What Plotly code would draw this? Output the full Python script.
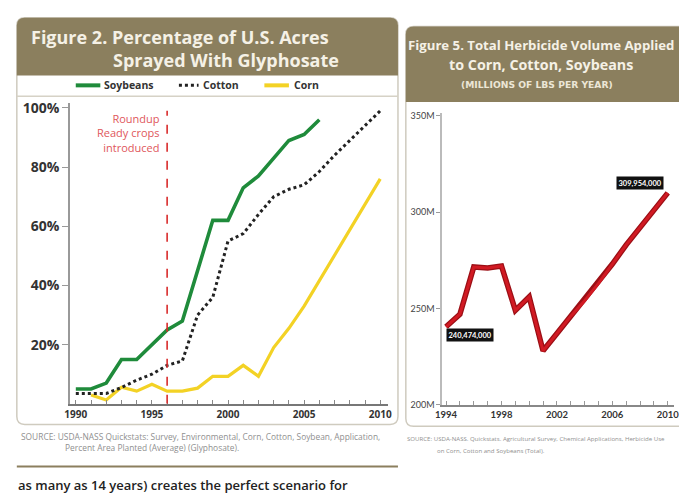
import plotly.graph_objects as go

W, H = 679, 497

# ---------------- data: Figure 2 ----------------
series_names = ["Soybeans", "Cotton", "Corn"]
soy_years = list(range(1990, 2007))
soy_pct = [5, 5, 7, 15, 15, 20, 25, 28, 45, 62, 62, 73, 77, 83, 89, 91, 96]
cotton_years = list(range(1990, 2011))
cotton_pct = [3.5, 3.5, 3.5, 5.5, 8, 10, 13, 14.5, 30, 36, 55, 57.5, 64, 70, 72.5, 74, 78.5, 84, 89, 94, 99]
corn_years = list(range(1991, 2011))
corn_pct = [3, 1.3, 5.6, 4.3, 6.6, 4.3, 4.3, 5.3, 9.3, 9.3, 13, 9.3, 19, 25.5, 33, 41.6, 50, 59, 67.5, 76]
pct_ticks = [20, 40, 60, 80, 100]
pct_labels = ["20%", "40%", "60%", "80%", "100%"]
roundup_year = 1996
roundup_text = "Roundup<br>Ready crops<br>introduced"

# ---------------- data: Figure 5 ----------------
herb_years = list(range(1994, 2011))
herb_mlbs = [240.474, 247, 271.5, 271, 272, 249, 256, 228, 237, 246, 254, 263, 273, 283, 292, 301, 309.954]
herb_ticks = [200, 250, 300, 350]
herb_labels = ["200M", "250M", "300M", "350M"]

# ---------------- styles ----------------
GREEN, BLACK, YELLOW = "#1f8b3b", "#222222", "#f3d225"
OLIVE = "#8b7f5e"
FONT = "Open Sans"
FONT2 = "Lato"


def X(x):
    return x / W


def Y(y):
    return 1 - y / H


def rrect(x0, y0, x1, y1, r, top_only=False):
    p = f"M {X(x0)},{Y(y0 + r)} Q {X(x0)},{Y(y0)} {X(x0 + r)},{Y(y0)} "
    p += f"L {X(x1 - r)},{Y(y0)} Q {X(x1)},{Y(y0)} {X(x1)},{Y(y0 + r)} "
    if top_only:
        p += f"L {X(x1)},{Y(y1)} L {X(x0)},{Y(y1)} Z"
    else:
        p += f"L {X(x1)},{Y(y1 - r)} Q {X(x1)},{Y(y1)} {X(x1 - r)},{Y(y1)} "
        p += f"L {X(x0 + r)},{Y(y1)} Q {X(x0)},{Y(y1)} {X(x0)},{Y(y1 - r)} Z"
    return p


fig = go.Figure()

# Figure 2 traces
fig.add_trace(go.Scatter(x=corn_years, y=corn_pct, mode="lines", name=series_names[2],
                         line=dict(color=YELLOW, width=3.2), xaxis="x", yaxis="y"))
fig.add_trace(go.Scatter(x=soy_years, y=soy_pct, mode="lines", name=series_names[0],
                         line=dict(color=GREEN, width=3.6), xaxis="x", yaxis="y"))
fig.add_trace(go.Scatter(x=cotton_years, y=cotton_pct, mode="lines", name=series_names[1],
                         line=dict(color=BLACK, width=3, dash="dot"), xaxis="x", yaxis="y"))

# Figure 5 trace (dark edge + bright core)
fig.add_trace(go.Scatter(x=herb_years, y=herb_mlbs, mode="lines", name="Herbicide",
                         line=dict(color="#9b0f15", width=5.5), xaxis="x2", yaxis="y2"))
fig.add_trace(go.Scatter(x=herb_years, y=herb_mlbs, mode="lines", name="Herbicide",
                         line=dict(color="#d11a23", width=3), xaxis="x2", yaxis="y2"))

shapes = []
shapes.append(dict(type="path", xref="paper", yref="paper", path=rrect(10, 13, 398, 428, 8),
                   line=dict(color="#cfcbbf", width=1.5), layer="below"))
shapes.append(dict(type="path", xref="paper", yref="paper", path=rrect(10, 13, 398, 72, 8, top_only=True),
                   fillcolor=OLIVE, line=dict(width=0), layer="below"))
shapes.append(dict(type="line", xref="paper", yref="paper", x0=X(10), x1=X(398), y0=Y(93), y1=Y(93),
                   line=dict(color="#d6d2c6", width=1.5), layer="below"))
shapes.append(dict(type="path", xref="paper", yref="paper", path=rrect(406, 22, 700, 430, 8),
                   line=dict(color="#cfcbbf", width=1.5), layer="below"))
shapes.append(dict(type="path", xref="paper", yref="paper", path=rrect(406, 22, 700, 99, 8, top_only=True),
                   fillcolor=OLIVE, line=dict(width=0), layer="below"))
shapes.append(dict(type="line", xref="paper", yref="paper", x0=X(10), x1=X(398), y0=Y(471), y1=Y(471),
                   line=dict(color=OLIVE, width=2)))
shapes.append(dict(type="line", xref="x", yref="y", x0=roundup_year, x1=roundup_year, y0=0, y1=99,
                   line=dict(color="#d92b2b", width=1.6, dash="dash")))
# legend samples
shapes.append(dict(type="line", xref="paper", yref="paper", x0=X(70), x1=X(95), y0=Y(82), y1=Y(82),
                   line=dict(color=GREEN, width=4)))
shapes.append(dict(type="line", xref="paper", yref="paper", x0=X(175), x1=X(195), y0=Y(82), y1=Y(82),
                   line=dict(color=BLACK, width=3, dash="dot")))
shapes.append(dict(type="line", xref="paper", yref="paper", x0=X(262), x1=X(287), y0=Y(82), y1=Y(82),
                   line=dict(color=YELLOW, width=4)))

ann = []


def txt(x, y, s, size, color, weight="normal", xanchor="left", align="left", family=FONT):
    ann.append(dict(x=X(x), y=Y(y), xref="paper", yref="paper", text=s, showarrow=False,
                    xanchor=xanchor, yanchor="middle", align=align,
                    font=dict(family=family, size=size, color=color, weight=weight)))


# left header
txt(22, 33, "Figure 2. Percentage of U.S. Acres", 18, "#f5f1e6", "bold")
txt(106, 56, "Sprayed With Glyphosate", 18, "#f5f1e6", "bold")
# legend text
txt(97, 82, series_names[0], 10.5, "#333333", "bold")
txt(197, 82, series_names[1], 10.5, "#333333", "bold")
txt(290, 82, series_names[2], 10.5, "#333333", "bold")
# right header
txt(544, 41, "Figure 5. Total Herbicide Volume Applied", 13.2, "#f5f1e6", "bold", "center", "center")
txt(544, 61, "to Corn, Cotton, Soybeans", 14.3, "#f5f1e6", "bold", "center", "center")
txt(540, 81, "(MILLIONS OF LBS PER YEAR)", 9.2, "#ece6d6", "bold", "center", "center", "DejaVu Sans")
# sources
txt(12, 440, "SOURCE: USDA-NASS Quickstats: Survey, Environmental, Corn, Cotton, Soybean, Application,", 8.4, "#8f8f8f")
txt(57, 452, "Percent Area Planted (Average) (Glyphosate).", 8.4, "#8f8f8f")
txt(405, 442, "SOURCE: USDA-NASS. Quickstats. Agricultural Survey, Chemical Applications, Herbicide Use", 6.1, "#8f8f8f")
txt(436, 455, "on Corn, Cotton and Soybeans (Total).", 6.1, "#8f8f8f")
# body text
txt(9, 490, "as many as 14 years) creates the perfect scenario for", 13, "#222222", 600)

# roundup annotation
ann.append(dict(x=roundup_year, y=99.7, xref="x", yref="y", text=roundup_text, showarrow=False,
                xanchor="right", yanchor="top", align="right", xshift=-5,
                font=dict(family=FONT, size=11, color="#e0575b", weight=500)))

# data labels on Figure 5
ann.append(dict(x=herb_years[0], y=herb_mlbs[0], xref="x2", yref="y2",
                text=f"{int(round(herb_mlbs[0] * 1e6)):,}", showarrow=False,
                xanchor="left", yanchor="top", xshift=0, yshift=-1,
                bgcolor="#111111", borderpad=1.5,
                font=dict(family=FONT2, size=7.5, color="white", weight="bold")))
ann.append(dict(x=herb_years[-1], y=herb_mlbs[-1], xref="x2", yref="y2",
                text=f"{int(round(herb_mlbs[-1] * 1e6)):,}", showarrow=False,
                xanchor="right", yanchor="bottom", xshift=-4, yshift=3,
                bgcolor="#111111", borderpad=1.5,
                font=dict(family=FONT2, size=7.5, color="white", weight="bold")))

fig.update_layout(
    width=W, height=H,
    margin=dict(l=0, r=0, t=0, b=0),
    paper_bgcolor="white", plot_bgcolor="rgba(0,0,0,0)",
    showlegend=False,
    shapes=shapes, annotations=ann,
    xaxis=dict(domain=[X(64), X(388)], range=[1989.61, 2010.52], anchor="y",
               showline=True, linecolor="#777777", linewidth=2,
               tickmode="linear", tick0=1990, dtick=5, ticks="inside", ticklen=4, tickcolor="#888888",
               minor=dict(dtick=1, tick0=1990, ticks="inside", ticklen=4, tickcolor="#888888", showgrid=False),
               showgrid=False, zeroline=False,
               tickfont=dict(family=FONT, size=10, color="#333333", weight="bold")),
    yaxis=dict(domain=[Y(407), Y(100)], range=[0, 101.66], anchor="x",
               showline=True, linecolor="#999999", linewidth=1.5,
               tickmode="array", tickvals=pct_ticks, ticktext=pct_labels,
               ticks="outside", ticklen=6, tickcolor="#999999",
               showgrid=False, zeroline=False,
               tickfont=dict(family=FONT, size=14, color="#333333", weight="bold")),
    xaxis2=dict(domain=[X(443), 1.0], range=[1993.72, 2010.45], anchor="y2",
                showline=True, linecolor="#888888", linewidth=1.5,
                tickmode="linear", tick0=1994, dtick=4, ticks="inside", ticklen=4, tickcolor="#999999",
                minor=dict(dtick=1, tick0=1994, ticks="inside", ticklen=4, tickcolor="#999999", showgrid=False),
                showgrid=False, zeroline=False, ticklabeloverflow="allow",
                tickfont=dict(family=FONT2, size=9.5, color="#333333", weight="bold")),
    yaxis2=dict(domain=[Y(408), Y(110)], range=[200, 351.5], anchor="x2",
                showline=True, linecolor="#bbbbbb", linewidth=1.5,
                tickmode="array", tickvals=herb_ticks, ticktext=herb_labels,
                ticks="outside", ticklen=4, tickcolor="#999999",
                showgrid=False, zeroline=False,
                tickfont=dict(family=FONT2, size=9, color="#444444")),
)

fig.write_html("out.html")
